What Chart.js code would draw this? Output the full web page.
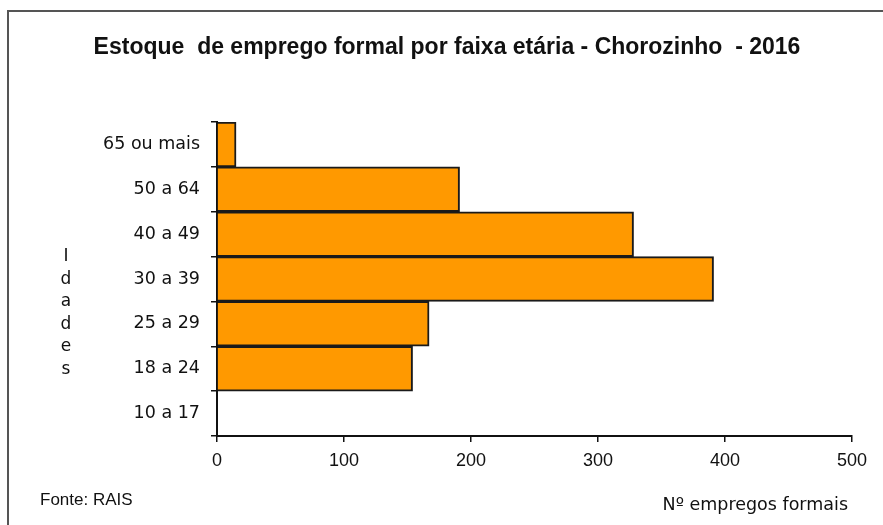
<!DOCTYPE html>
<html>
<head>
<meta charset="utf-8">
<script src="https://cdn.jsdelivr.net/npm/chart.js@4.4.1/dist/chart.umd.min.js"></script>
<style>
  html, body { margin: 0; padding: 0; background: #fff; }
  #wrap { position: relative; width: 883px; height: 525px; overflow: hidden; }
  #frame { position: absolute; left: 7px; top: 10px; width: 900px; height: 600px;
           border-left: 2px solid #555; border-top: 2px solid #555; }
  canvas { position: absolute; left: 0; top: 0; }
</style>
</head>
<body>
<div id="wrap">
  <div id="frame"></div>
  <canvas id="chart" width="883" height="525"></canvas>
</div>
<script>
// faixas etarias, de cima para baixo
let faixas = ["65 ou mais", "50 a 64", "40 a 49", "30 a 39", "25 a 29", "18 a 24", "10 a 17"];
let empregos = [15, 191, 328, 391, 167, 154, 0];
let xMin = 0;
let xMax = 500;
let xStep = 100;

let tituloTexto = "Estoque  de emprego formal por faixa etária - Chorozinho  - 2016";
let eixoY = ["I", "d", "a", "d", "e", "s"];
let fonteTexto = "Fonte: RAIS";
let eixoX = "Nº empregos formais";

//draws title and side texts straight onto the canvas
const textos = {
  id: "textos",
  afterDraw(chart) {
    let ctx = chart.ctx;
    ctx.save();
    ctx.fillStyle = "#111";
    ctx.textBaseline = "middle";

    ctx.font = "bold 23px 'Liberation Sans', Arial, sans-serif";
    ctx.textAlign = "center";
    ctx.fillText(tituloTexto, 447, 48);

    ctx.font = "17px 'DejaVu Sans', sans-serif";
    for (let i = 0; i < eixoY.length; i++) {
      ctx.fillText(eixoY[i], 66, 257 + i * 22.5);
    }

    ctx.textAlign = "left";
    ctx.font = "17px 'Liberation Sans', Arial, sans-serif";
    ctx.fillText(fonteTexto, 40, 500);

    ctx.textAlign = "right";
    ctx.font = "17.5px 'DejaVu Sans', sans-serif";
    ctx.fillText(eixoX, 848, 505);
    ctx.restore();
  }
};

let ctx = document.getElementById("chart").getContext("2d");
let myChart = new Chart(ctx, {
  type: "bar",
  data: {
    labels: faixas,
    datasets: [{
      data: empregos,
      backgroundColor: "#FF9900",
      borderColor: "#1a1a1a",
      borderWidth: 2,
      categoryPercentage: 1,
      barPercentage: 1
    }]
  },
  options: {
    indexAxis: "y",
    responsive: false,
    animation: false,
    layout: { padding: { left: 0, top: 122, right: 31, bottom: 0 } },
    plugins: {
      legend: { display: false },
      tooltip: { enabled: false },
      title: { display: false }
    },
    scales: {
      x: {
        min: xMin,
        max: xMax,
        ticks: {
          stepSize: xStep,
          color: "#111",
          padding: 8,
          font: { family: "'Liberation Sans', Arial, sans-serif", size: 18 }
        },
        grid: { display: true, drawOnChartArea: false, drawTicks: true, tickLength: 6, color: "#111", lineWidth: 1.5 },
        border: { display: true, color: "#111", width: 2 },
        afterFit: function (scale) { scale.height = 89; }
      },
      y: {
        ticks: {
          color: "#111",
          padding: 11,
          font: { family: "'DejaVu Sans', sans-serif", size: 17.5 }
        },
        grid: { display: true, offset: true, drawOnChartArea: false, drawTicks: true, tickLength: 6, color: "#111", lineWidth: 1.5 },
        border: { display: true, color: "#111", width: 2 },
        afterFit: function (scale) { scale.width = 217; }
      }
    }
  },
  plugins: [textos]
});
</script>
</body>
</html>
